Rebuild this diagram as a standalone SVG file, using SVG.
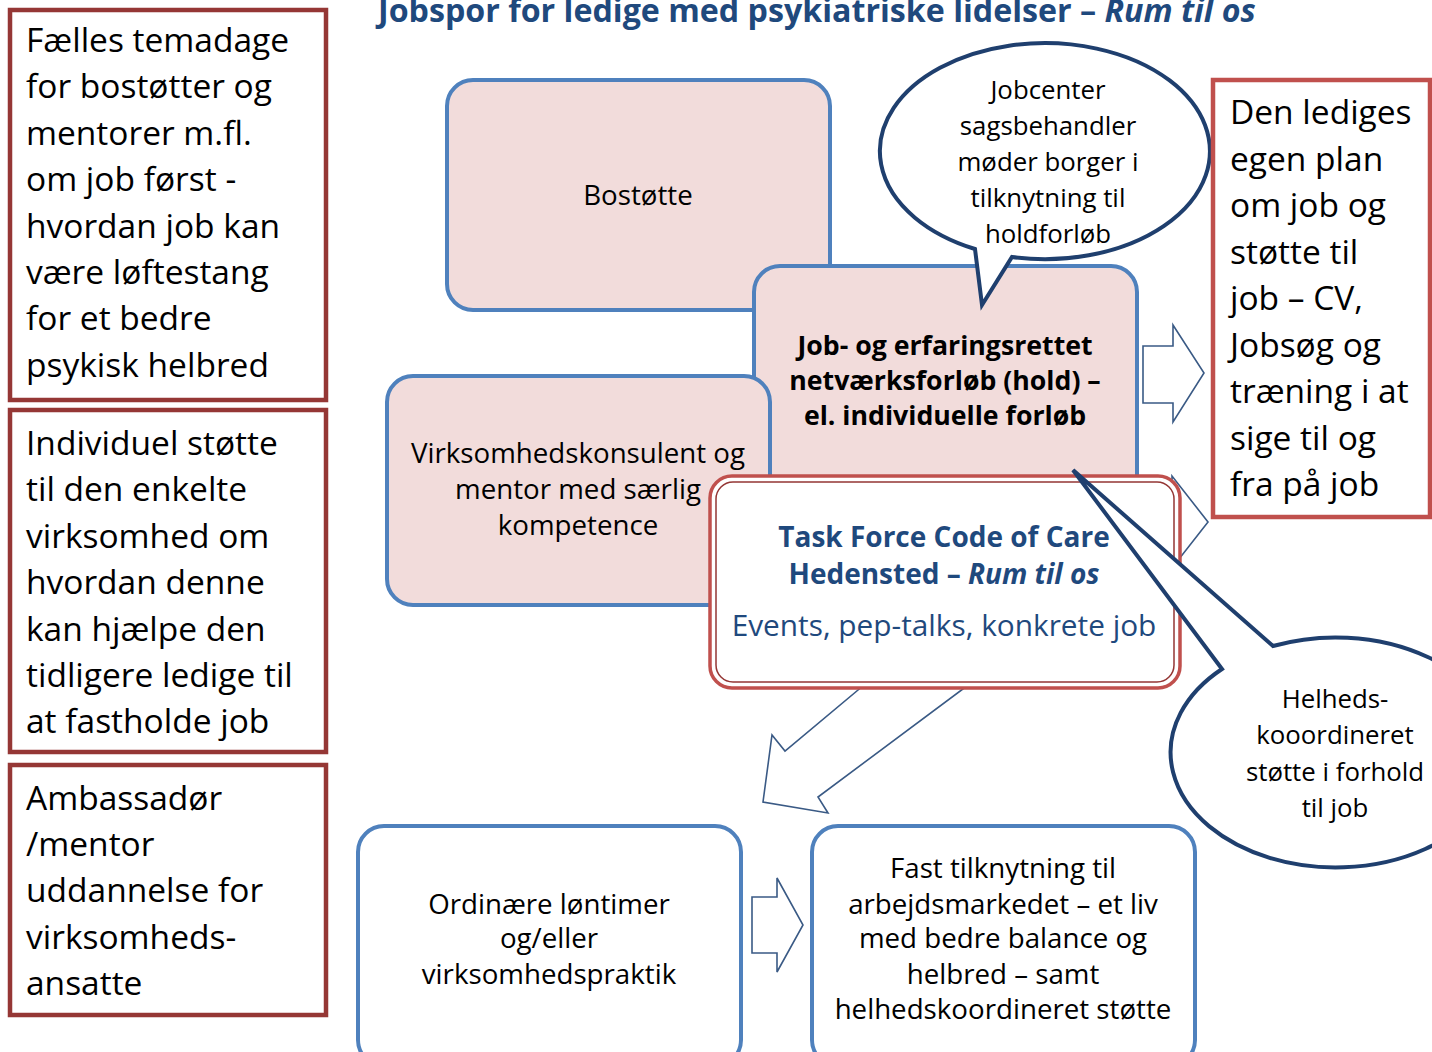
<svg xmlns="http://www.w3.org/2000/svg" width="1432" height="1052" viewBox="0 0 1432 1052">
<defs>
<style>
text{font-family:"Open Sans","Noto Sans","Liberation Sans",sans-serif;fill:#000}
.lbox{fill:#fff;stroke:#953735;stroke-width:4.5}
.rbox{fill:#fff;stroke:#C0504D;stroke-width:4.5}
.big{font-size:33.5px}
.pink{fill:#F2DCDB;stroke:#4F81BD;stroke-width:4}
.white{fill:#fff;stroke:#4F81BD;stroke-width:4}
.mid{font-size:27.7px;text-anchor:middle}
.bold{font-weight:bold}
.callout{fill:#fff;stroke:#1F3F6E;stroke-width:4;stroke-linejoin:miter}
.barrow{fill:#fff;stroke:#3A5A85;stroke-width:1.6;stroke-linejoin:miter}
</style>
</defs>
<g id="title"><text x="378" y="22" font-size="32.2" font-weight="bold" style="fill:#1F497D">Jobspor for ledige med psykiatriske lidelser – <tspan font-style="italic">Rum til os</tspan></text></g>

<g id="left1"><rect class="lbox" x="10" y="10" width="316" height="390"/>
<text class="big"><tspan x="26" y="52">Fælles temadage</tspan><tspan x="26" y="98">for bostøtter og</tspan><tspan x="26" y="145">mentorer m.fl.</tspan><tspan x="26" y="191">om job først -</tspan><tspan x="26" y="238">hvordan job kan</tspan><tspan x="26" y="284">være løftestang</tspan><tspan x="26" y="330">for et bedre</tspan><tspan x="26" y="377">psykisk helbred</tspan></text></g>

<g id="left2"><rect class="lbox" x="10" y="410" width="316" height="342"/>
<text class="big"><tspan x="26" y="455">Individuel støtte</tspan><tspan x="26" y="501">til den enkelte</tspan><tspan x="26" y="548">virksomhed om</tspan><tspan x="26" y="594">hvordan denne</tspan><tspan x="26" y="641">kan hjælpe den</tspan><tspan x="26" y="687">tidligere ledige til</tspan><tspan x="26" y="733">at fastholde job</tspan></text></g>

<g id="left3"><rect class="lbox" x="10" y="765" width="316" height="250"/>
<text class="big"><tspan x="26" y="810">Ambassadør</tspan><tspan x="26" y="856">/mentor</tspan><tspan x="26" y="902">uddannelse for</tspan><tspan x="26" y="949">virksomheds-</tspan><tspan x="26" y="995">ansatte</tspan></text></g>

<g id="connectors">
<polygon class="barrow" points="1143,346 1173,346 1173,325 1204,373 1173,422 1173,403 1143,403"/>
<polygon class="barrow" points="1143,500 1172,500 1172,476 1208,522 1172,568 1172,545 1143,545"/>
<polygon class="barrow" points="870,680 785,751 772,735 763,802 828,813 818,797 975,680"/>
<polygon class="barrow" points="752,897 777,897 777,878 803,925 777,972 777,953 752,953"/>
</g>

<g id="bostotte"><rect class="pink" x="447" y="80" width="383" height="230" rx="26"/>
<text class="mid" x="638" y="205">Bostøtte</text></g>

<g id="jobforlob"><rect class="pink" x="754" y="266" width="383" height="250" rx="26"/>
<text class="mid bold" style="font-size:26.7px"><tspan x="945" y="355">Job- og erfaringsrettet</tspan><tspan x="945" y="390">netværksforløb (hold) –</tspan><tspan x="945" y="425">el. individuelle forløb</tspan></text></g>

<g id="virksomhed"><rect class="pink" x="387" y="376" width="383" height="229" rx="26"/>
<text class="mid"><tspan x="578" y="463">Virksomhedskonsulent og</tspan><tspan x="578" y="499">mentor med særlig</tspan><tspan x="578" y="535">kompetence</tspan></text></g>

<g id="jobcenter">
<path class="callout" d="M975,249 A165,108 0 1 1 1012,257 L982,305 Z"/>
<text class="mid" style="font-size:25.8px"><tspan x="1048" y="99">Jobcenter</tspan><tspan x="1048" y="135">sagsbehandler</tspan><tspan x="1048" y="171">møder borger i</tspan><tspan x="1048" y="207">tilknytning til</tspan><tspan x="1048" y="243">holdforløb</tspan></text></g>

<g id="plan"><rect class="rbox" x="1213" y="80" width="217" height="437"/>
<text class="big"><tspan x="1230" y="124">Den lediges</tspan><tspan x="1230" y="171">egen plan</tspan><tspan x="1230" y="217">om job og</tspan><tspan x="1230" y="264">støtte til</tspan><tspan x="1230" y="310">job – CV,</tspan><tspan x="1230" y="357">Jobsøg og</tspan><tspan x="1230" y="403">træning i at</tspan><tspan x="1230" y="450">sige til og</tspan><tspan x="1230" y="496">fra på job</tspan></text></g>

<g id="taskforce">
<rect x="710" y="476" width="470" height="212" rx="22" fill="#fff" stroke="#C0504D" stroke-width="3.5"/>
<rect x="716" y="482" width="458" height="200" rx="17" fill="none" stroke="#943634" stroke-width="1.5"/>
<text class="mid bold" style="font-size:28px;fill:#1F497D"><tspan x="944" y="547">Task Force Code of Care</tspan><tspan x="944" y="584">Hedensted – <tspan font-style="italic">Rum til os</tspan></tspan></text>
<text class="mid" x="944" y="636" style="font-size:29.8px;fill:#1F497D">Events, pep-talks, konkrete job</text></g>

<g id="ordinaere"><rect class="white" x="358" y="826" width="383" height="240" rx="26"/>
<text class="mid"><tspan x="549" y="914">Ordinære løntimer</tspan><tspan x="549" y="948">og/eller</tspan><tspan x="549" y="984">virksomhedspraktik</tspan></text></g>

<g id="fast"><rect class="white" x="812" y="826" width="383" height="240" rx="26"/>
<text class="mid"><tspan x="1003" y="878">Fast tilknytning til</tspan><tspan x="1003" y="914">arbejdsmarkedet – et liv</tspan><tspan x="1003" y="948">med bedre balance og</tspan><tspan x="1003" y="984">helbred – samt</tspan><tspan x="1003" y="1019">helhedskoordineret støtte</tspan></text></g>

<g id="helheds">
<path class="callout" d="M1273,646 A165,115 0 1 1 1222,669 L1073,470 Z"/>
<text class="mid" style="font-size:25.8px"><tspan x="1335" y="708">Helheds-</tspan><tspan x="1335" y="744">kooordineret</tspan><tspan x="1335" y="781">støtte i forhold</tspan><tspan x="1335" y="817">til job</tspan></text></g>
</svg>
